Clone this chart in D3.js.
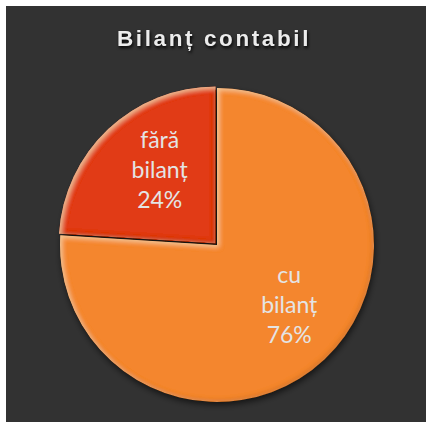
<!DOCTYPE html>
<html>
<head>
<meta charset="utf-8">
<script src="https://cdnjs.cloudflare.com/ajax/libs/d3/7.8.5/d3.min.js"></script>
<style>
  html, body { margin: 0; padding: 0; background: #ffffff; }
  #chart svg { display: block; }
</style>
</head>
<body>
<div id="chart"></div>
<script>
var TITLE = 'Bilanț contabil';
var CATEGORIES = ['cu bilanț', 'fără bilanț'];
var LABEL_LINES = [['cu', 'bilanț'], ['fără', 'bilanț']];
var VALUES = [76, 24];
var COLORS = ['#f4862e', '#e13a13'];

var width = 426, height = 422;

var svg = d3.select('#chart')
  .append('svg')
    .attr('width', width)
    .attr('height', height);

var defs = svg.append('defs');

// soft bevel on the slice edges
var bevel = defs.append('filter')
  .attr('id', 'bevel')
  .attr('x', '-10%').attr('y', '-10%')
  .attr('width', '120%').attr('height', '120%');
bevel.append('feGaussianBlur').attr('in', 'SourceAlpha').attr('stdDeviation', 2.5).attr('result', 'blur');
bevel.append('feOffset').attr('in', 'blur').attr('dx', -1.5).attr('dy', -1.5).attr('result', 'off');
bevel.append('feComposite').attr('in', 'SourceAlpha').attr('in2', 'off')
  .attr('operator', 'arithmetic').attr('k2', 1).attr('k3', -1).attr('result', 'inner');
bevel.append('feFlood').attr('flood-color', '#5a1a00').attr('flood-opacity', 0.4);
bevel.append('feComposite').attr('in2', 'inner').attr('operator', 'in').attr('result', 'shade');
bevel.append('feOffset').attr('in', 'blur').attr('dx', 1.5).attr('dy', 1.5).attr('result', 'off2');
bevel.append('feComposite').attr('in', 'SourceAlpha').attr('in2', 'off2')
  .attr('operator', 'arithmetic').attr('k2', 1).attr('k3', -1).attr('result', 'inner2');
bevel.append('feFlood').attr('flood-color', '#fff3c0').attr('flood-opacity', 0.55);
bevel.append('feComposite').attr('in2', 'inner2').attr('operator', 'in').attr('result', 'light');
var merge = bevel.append('feMerge');
merge.append('feMergeNode').attr('in', 'SourceGraphic');
merge.append('feMergeNode').attr('in', 'shade');
merge.append('feMergeNode').attr('in', 'light');

// shadow under the pie
var shadow = defs.append('filter')
  .attr('id', 'shadow')
  .attr('x', '-10%').attr('y', '-10%')
  .attr('width', '120%').attr('height', '120%');
shadow.append('feGaussianBlur').attr('in', 'SourceAlpha').attr('stdDeviation', 3);
shadow.append('feOffset').attr('dx', 1).attr('dy', 3).attr('result', 'o');
shadow.append('feFlood').attr('flood-color', '#000').attr('flood-opacity', 0.6);
shadow.append('feComposite').attr('in2', 'o').attr('operator', 'in');

// background panel (white strip on left and top)
svg.append('rect')
  .attr('width', width).attr('height', height)
  .attr('fill', '#ffffff');
svg.append('rect')
  .attr('x', 6).attr('y', 6)
  .attr('width', width - 6).attr('height', height - 6)
  .attr('fill', '#323232');

// title
svg.append('text')
  .attr('x', 214)
  .attr('y', 46)
  .attr('text-anchor', 'middle')
  .style('font-family', '"Liberation Sans", Arial, sans-serif')
  .style('font-weight', 'bold')
  .style('font-size', '22.5px')
  .style('letter-spacing', '2.6px')
  .style('fill', '#ececec')
  .style('filter', 'drop-shadow(1px 2px 1.5px rgba(0,0,0,0.9))')
  .text(TITLE);

var cx = 217, cy = 245, radius = 157;

var pie = d3.pie().sort(null).value(function(d) { return d; });
var arcs = pie(VALUES);

var arc = d3.arc().innerRadius(0).outerRadius(radius);
var labelArc = d3.arc().innerRadius(radius * 0.6).outerRadius(radius * 0.6);

var g = svg.append('g')
  .attr('transform', 'translate(' + cx + ',' + cy + ')');

// pie shadow
g.append('g')
  .attr('filter', 'url(#shadow)')
  .selectAll('path')
  .data(arcs)
  .enter().append('path')
    .attr('d', arc);

var explode = [0, 2];

g.selectAll('path.slice')
  .data(arcs)
  .enter().append('path')
    .attr('class', 'slice')
    .attr('transform', function(d, i) {
      var a = (d.startAngle + d.endAngle) / 2;
      return 'translate(' + (Math.sin(a) * explode[i]) + ',' + (-Math.cos(a) * explode[i]) + ')';
    })
    .attr('d', arc)
    .attr('fill', function(d, i) { return COLORS[i]; })
    .attr('filter', 'url(#bevel)');

// labels (nudged a little clockwise from the slice middle, as in the source)
var lineH = 30;
var labels = g.selectAll('text.lbl')
  .data(arcs)
  .enter().append('text')
    .attr('class', 'lbl')
    .attr('text-anchor', 'middle')
    .attr('transform', function(d) {
      var c = labelArc.centroid({ startAngle: d.startAngle - 0.12, endAngle: d.endAngle - 0.12 });
      if (d.index === 1) c = labelArc.centroid({ startAngle: d.startAngle + 0.1, endAngle: d.endAngle + 0.1 });
      return 'translate(' + c[0] + ',' + c[1] + ')';
    })
    .style('font-family', 'Lato, "Open Sans", sans-serif')
    .style('font-size', '23px')
    .style('fill', '#e4e4e4');

labels.each(function(d, i) {
  var t = d3.select(this);
  var lines = LABEL_LINES[i].concat([VALUES[i] + '%']);
  lines.forEach(function(s, k) {
    t.append('tspan')
      .attr('x', 0)
      .attr('y', (k - 1) * lineH + 8)
      .text(s);
  });
});
</script>
</body>
</html>
